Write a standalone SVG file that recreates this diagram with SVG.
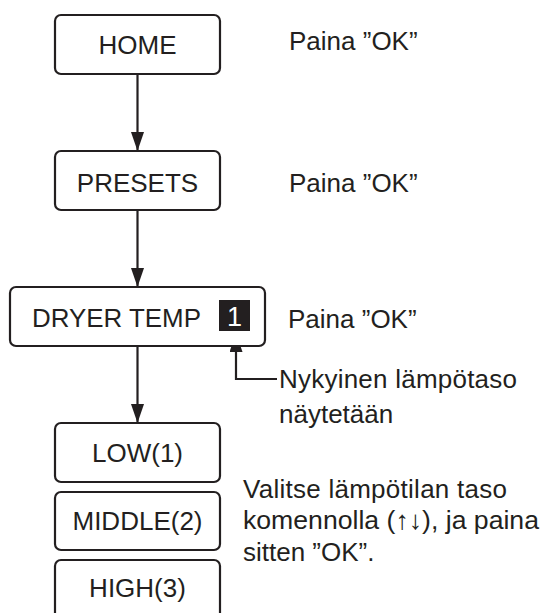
<svg xmlns="http://www.w3.org/2000/svg" width="543" height="613" viewBox="0 0 543 613">
<style>
.box{fill:#fff;stroke:#231f20;stroke-width:2.2}
.t{font-family:"Liberation Sans","DejaVu Sans",Arial,sans-serif;font-size:26px;fill:#231f20}
.c{text-anchor:middle}
.ln{stroke:#231f20;stroke-width:2.2;fill:none}
</style>
<defs>
<marker id="ah" markerWidth="19" markerHeight="13" refX="19" refY="6.5" orient="auto" markerUnits="userSpaceOnUse" viewBox="0 0 19 13">
<path d="M0,0 L19,6.5 L0,13 Z" fill="#231f20"/>
</marker>
</defs>
<rect width="543" height="613" fill="#fff"/>
<g id="connectors">
<line class="ln" x1="137.5" y1="74" x2="137.5" y2="151" marker-end="url(#ah)"/>
<line class="ln" x1="137.5" y1="210" x2="137.5" y2="287" marker-end="url(#ah)"/>
<line class="ln" x1="137.5" y1="346" x2="137.5" y2="423" marker-end="url(#ah)"/>
<polyline class="ln" points="277,379 236,379 236,333" marker-end="url(#ah)"/>
</g>
<g id="home">
<rect class="box" x="55" y="15" width="165" height="59" rx="6"/>
<text class="t c" x="137.5" y="54">HOME</text>
</g>
<g id="presets">
<rect class="box" x="55" y="151" width="165" height="59" rx="6"/>
<text class="t c" x="137.5" y="192">PRESETS</text>
</g>
<g id="dryer-temp">
<rect class="box" x="10" y="287" width="255" height="59" rx="6"/>
<text class="t" x="32" y="327" textLength="169" lengthAdjust="spacingAndGlyphs">DRYER TEMP</text>
<rect x="219" y="300" width="31" height="31" fill="#231f20"/>
<text class="t c" x="234.5" y="326" style="fill:#fff;font-size:27px">1</text>
</g>
<g id="low">
<rect class="box" x="55" y="423" width="165" height="59" rx="6"/>
<text class="t c" x="137.5" y="462">LOW(1)</text>
</g>
<g id="middle">
<rect class="box" x="55" y="492" width="165" height="58" rx="6"/>
<text class="t c" x="137.5" y="530">MIDDLE(2)</text>
</g>
<g id="high">
<rect class="box" x="55" y="560" width="165" height="60" rx="6"/>
<text class="t c" x="137.5" y="597">HIGH(3)</text>
</g>
<g id="labels">
<text class="t" x="289" y="50">Paina ”OK”</text>
<text class="t" x="289" y="192">Paina ”OK”</text>
<text class="t" x="288" y="328">Paina ”OK”</text>
<text class="t" x="279" y="388" textLength="238" lengthAdjust="spacing">Nykyinen lämpötaso</text>
<text class="t" x="279" y="423">näytetään</text>
<text class="t" x="243" y="498" textLength="264" lengthAdjust="spacing">Valitse lämpötilan taso</text>
<text class="t" x="243" y="529" textLength="296" lengthAdjust="spacingAndGlyphs">komennolla (↑↓), ja paina</text>
<text class="t" x="243" y="561">sitten ”OK”.</text>
</g>
</svg>
